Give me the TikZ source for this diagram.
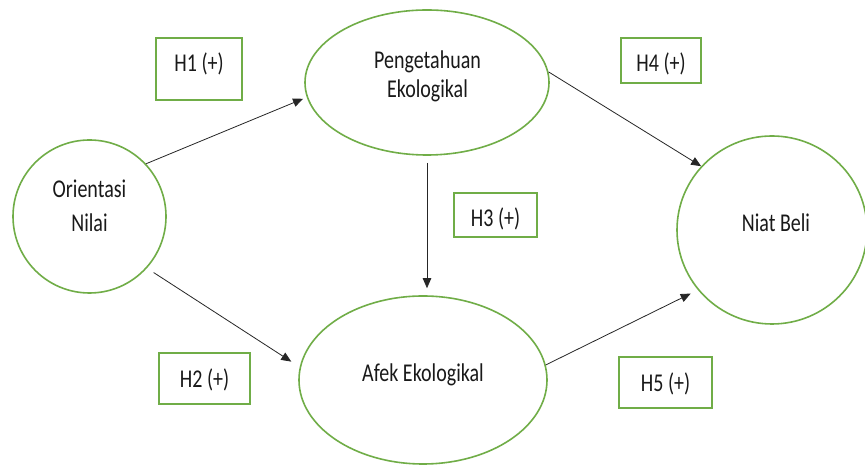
\documentclass[tikz,border=0pt]{standalone}
\usepackage{fontspec}
\setmainfont{Carlito}
\usetikzlibrary{shapes.geometric,arrows.meta}
\definecolor{grn}{HTML}{70AD47}
\newcommand\talltext[1]{\scalebox{1}[1.28]{#1}}
\begin{document}
\begin{tikzpicture}[x=1pt,y=1pt,
  var/.style={ellipse,draw=grn,line width=1.6pt,inner sep=0pt},
  hyp/.style={rectangle,draw=grn,line width=1.6pt,inner sep=0pt},
  txt/.style={font=\fontsize{20}{24}\selectfont,inner sep=0pt,anchor=base,text=black!90},
  arr/.style={draw=black!85,line width=0.8pt,-{Triangle[length=10pt,width=8.5pt]}}]
\useasboundingbox[fill=white] (0,0) rectangle (865,465);
% variables
\node[var,minimum width=153pt,minimum height=153pt] (on) at (89.5,248.5) {};
\node[var,minimum width=244pt,minimum height=145pt] (pe) at (427,382.5) {};
\node[var,minimum width=248pt,minimum height=168pt] (ae) at (423,85) {};
\node[var,minimum width=190pt,minimum height=188pt] (nb) at (772,235) {};
\node[txt] (on1) at (89.5,267) {\talltext{Orientasi}};
\node[txt] (on2) at (89.5,233) {\talltext{Nilai}};
\node[txt] (pe1) at (427.5,396) {\talltext{Pengetahuan}};
\node[txt] (pe2) at (427.5,367) {\talltext{Ekologikal}};
\node[txt] (ae1) at (423,83) {\talltext{Afek Ekologikal}};
\node[txt] (nb1) at (776,233.5) {\talltext{Niat Beli}};
% hypotheses
\node[hyp,minimum width=86pt,minimum height=62pt] (h1) at (199,396) {};
\node[hyp,minimum width=91pt,minimum height=51pt] (h2) at (204.5,86.5) {};
\node[hyp,minimum width=83pt,minimum height=44pt] (h3) at (495.5,250) {};
\node[hyp,minimum width=80pt,minimum height=45pt] (h4) at (661,404.5) {};
\node[hyp,minimum width=93pt,minimum height=51pt] (h5) at (665.5,82.5) {};
\node[txt] (h1t) at ([yshift=-3pt]h1.center) {\talltext{H1 (+)}};
\node[txt] (h2t) at ([yshift=-9pt]h2.center) {\talltext{H2 (+)}};
\node[txt] (h3t) at ([yshift=-12pt]h3.center) {\talltext{H3 (+)}};
\node[txt] (h4t) at ([yshift=-11pt]h4.center) {\talltext{H4 (+)}};
\node[txt] (h5t) at ([yshift=-9pt]h5.center) {\talltext{H5 (+)}};
% paths
\draw[arr,shorten >=4pt] (on.43) -- (pe.187);
\draw[arr,shorten <=8pt,shorten >=10pt] (on.-42) -- (ae.174);
\draw[arr,shorten <=7pt,shorten >=7pt] (pe.south) -- (pe.south |- ae.north);
\draw[arr] (pe.5) -- (nb.138);
\draw[arr,shorten >=8pt] (ae.7) -- (nb.219);
\end{tikzpicture}
\end{document}
